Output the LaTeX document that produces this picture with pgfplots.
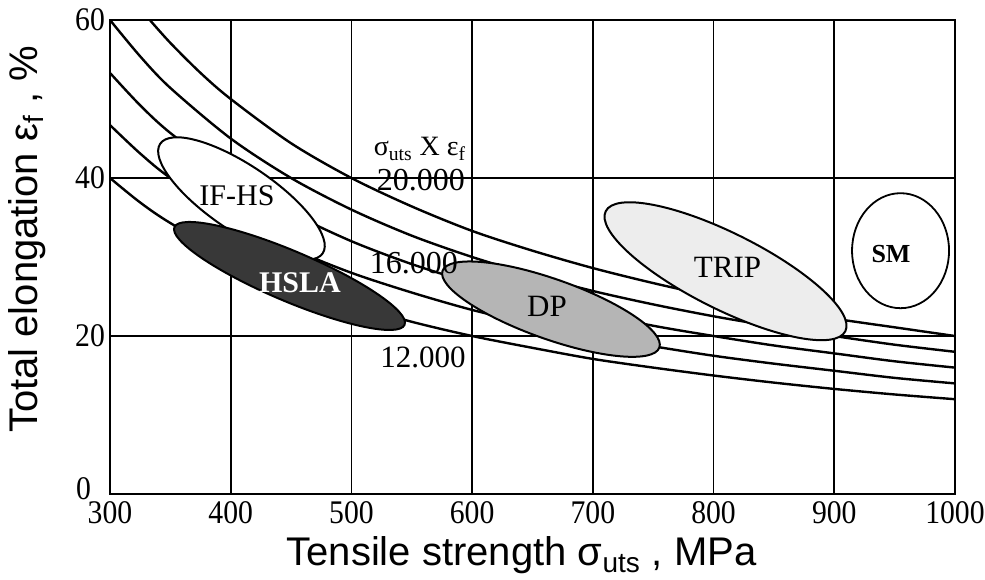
\documentclass[border=0pt]{standalone}
\usepackage{fontspec}
\setmainfont{Liberation Serif}
\newfontfamily\labelfont{Liberation Sans}
\newfontfamily\tickfont[FakeStretch=0.9]{Liberation Serif}
\usepackage{pgfplots}
\pgfplotsset{compat=1.18}

% iso-product curves sigma_uts x eps_f (MPa %)
\pgfplotstableread{
x      y
333    60
350    57.1
375    53.3
400    50
450    44.4
500    40
550    36.4
600    33.3
650    30.8
700    28.6
750    26.7
800    25
850    23.5
900    22.2
950    21.1
1000   20
}\curveA
\pgfplotstableread{
x      y
300    60
325    55.4
350    51.4
400    45
450    40
500    36
550    32.7
600    30
650    27.7
700    25.7
750    24
800    22.5
850    21.2
900    20
950    18.9
1000   18
}\curveB
\pgfplotstableread{
x      y
300    53.3
325    49.2
350    45.7
400    40
450    35.6
500    32
550    29.1
600    26.7
650    24.6
700    22.9
750    21.3
800    20
850    18.8
900    17.8
950    16.8
1000   16
}\curveC
\pgfplotstableread{
x      y
300    46.7
325    43.1
350    40
400    35
450    31.1
500    28
550    25.5
600    23.3
650    21.5
700    20
750    18.7
800    17.5
850    16.5
900    15.6
950    14.7
1000   14
}\curveD
\pgfplotstableread{
x      y
300    40
325    36.9
350    34.3
400    30
450    26.7
500    24
550    21.8
600    20
650    18.5
700    17.1
750    16
800    15
850    14.1
900    13.3
950    12.6
1000   12
}\curveE

\begin{document}
\begin{tikzpicture}
\begin{axis}[
  scale only axis,
  width=422.5pt, height=237pt,
  xmin=300, xmax=1000, ymin=0, ymax=60,
  xtick={300,400,...,1000},
  ytick={0,20,40,60},
  yticklabels={\raisebox{5pt}{0}\kern7pt, 20, 40, 60},
  grid=major,
  major grid style={black, line width=0.9pt},
  axis line style={black, line width=1.4pt},
  major tick length=0pt,
  /pgf/number format/assume math mode=true,
  /pgf/number format/1000 sep={},
  tick label style={font=\tickfont\fontsize{16.5}{16.5}\selectfont},
  yticklabel style={xshift=1pt},
  xticklabel style={yshift=0pt},
  xlabel={Tensile strength σ\textsubscript{uts} , MPa},
  ylabel={Total elongation ε\textsubscript{f} , \%},
  label style={font=\labelfont\fontsize{20}{20}\selectfont},
  xlabel style={at={(axis description cs:0.487,-0.13)}, anchor=center},
  ylabel style={at={(axis description cs:-0.098,0.537)}, anchor=center},
]
\addplot[black, line width=1.2pt, smooth] table {\curveA};
\addplot[black, line width=1.2pt, smooth] table {\curveB};
\addplot[black, line width=1.2pt, smooth] table {\curveC};
\addplot[black, line width=1.2pt, smooth] table {\curveD};
\addplot[black, line width=1.2pt, smooth] table {\curveE};

% steel-grade regions
\draw[black, line width=1pt, fill=white, rotate around={-34:(axis cs:408.9,37.4)}]
  (axis cs:408.9,37.4) ellipse [x radius=49pt, y radius=16.5pt];
\draw[black, line width=1pt, fill=black!78, rotate around={-23:(axis cs:448.7,27.6)}]
  (axis cs:448.7,27.6) ellipse [x radius=62.5pt, y radius=12.5pt];
\draw[black, line width=1pt, fill=black!29, rotate around={-19.5:(axis cs:665.3,23.4)}]
  (axis cs:665.3,23.4) ellipse [x radius=57.5pt, y radius=15pt];
\draw[black, line width=1pt, fill=black!7, rotate around={-26.6:(axis cs:809.9,28.2)}]
  (axis cs:809.9,28.2) ellipse [x radius=67pt, y radius=19pt];
\draw[black, line width=0.9pt, fill=white]
  (axis cs:954.9,30.8) ellipse [x radius=24.25pt, y radius=28.75pt];

\node[font=\fontsize{15}{15}\selectfont] at (axis cs:405.2,37.7) {IF-HS};
\node[font=\fontsize{15}{15}\selectfont\bfseries, text=white] at (axis cs:457.4,26.7) {HSLA};
\node[font=\fontsize{15.5}{15.5}\selectfont] at (axis cs:662,23.7) {DP};
\node[font=\fontsize{15.5}{15.5}\selectfont] at (axis cs:811.6,28.7) {TRIP};
\node[font=\fontsize{13}{13}\selectfont\bfseries] at (axis cs:947,30.4) {SM};

\node[font=\fontsize{14}{14}\selectfont] at (axis cs:556.8,43.7) {σ\textsubscript{uts} X ε\textsubscript{f}};
\node[font=\fontsize{16}{16}\selectfont] at (axis cs:557.6,39.7) {20.000};
\node[font=\fontsize{16}{16}\selectfont] at (axis cs:551.8,29.2) {16.000};
\node[font=\fontsize{15.5}{15.5}\selectfont] at (axis cs:559.3,17.3) {12.000};

\coordinate (O) at (rel axis cs:0,0);
\end{axis}
\pgfresetboundingbox
\path (O) ++(-55pt,-42.5pt) rectangle ++(492.5pt,289.5pt);
\end{tikzpicture}
\end{document}
